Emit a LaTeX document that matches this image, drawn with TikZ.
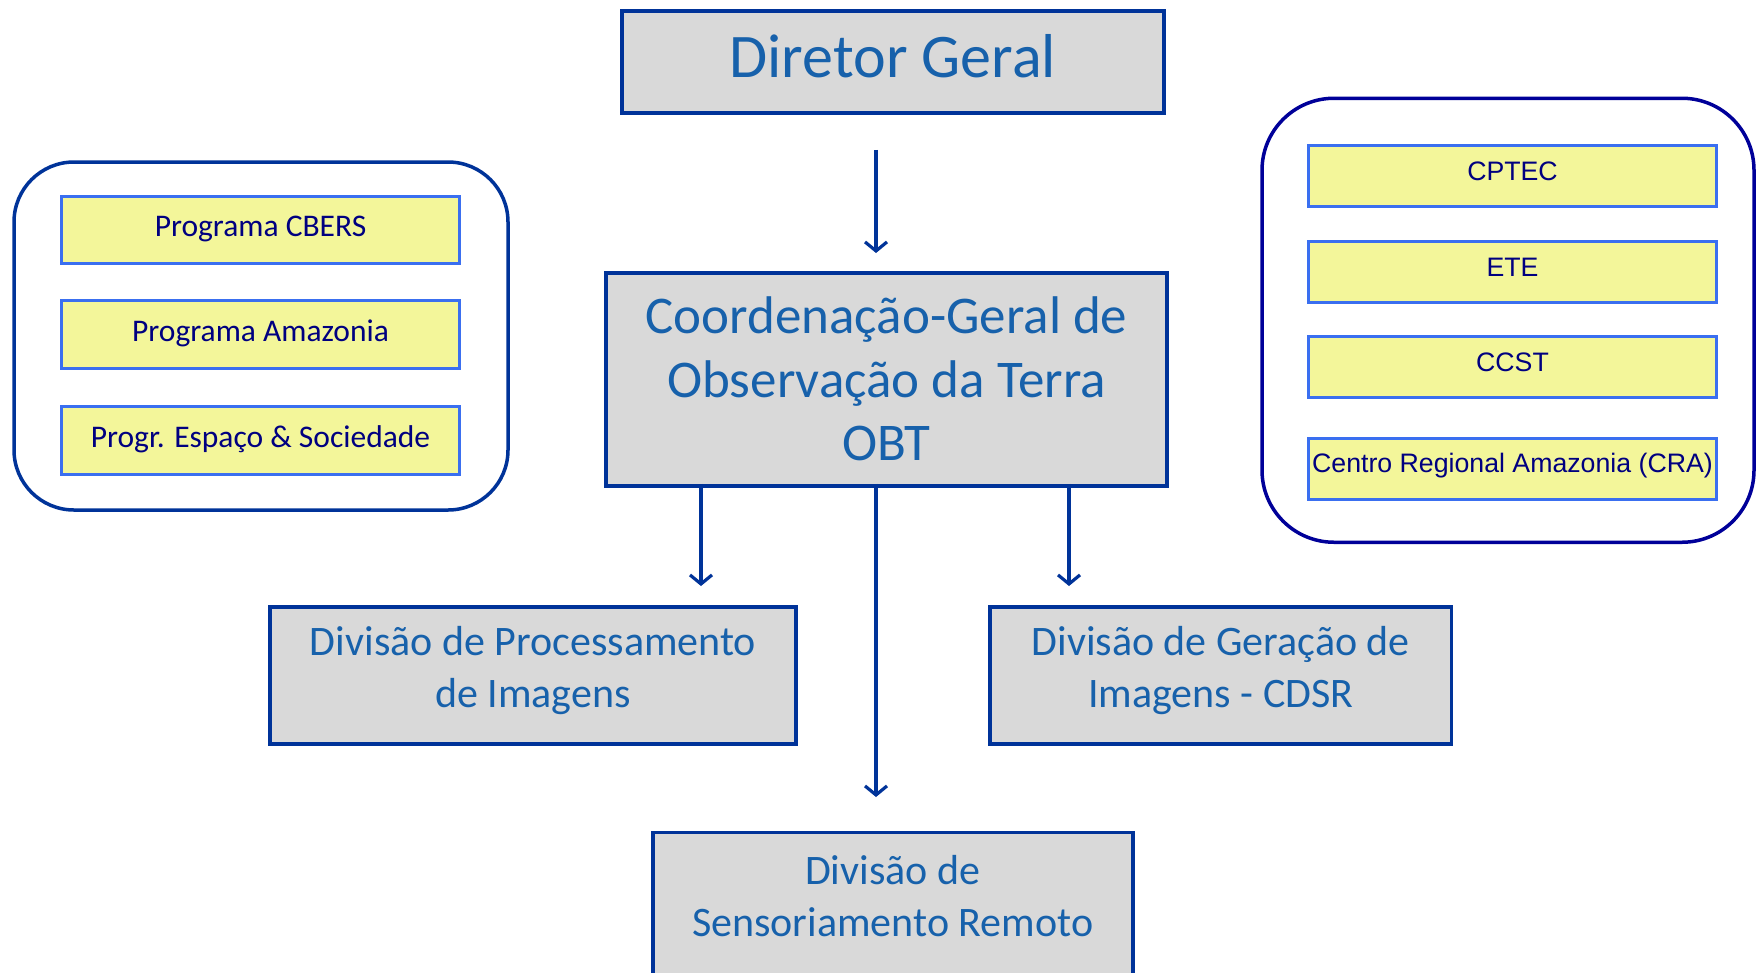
\documentclass[tikz,border=0pt]{standalone}
\usepackage{fontspec}
\setmainfont{Carlito}
\newfontfamily\arialf{Liberation Sans}
\usetikzlibrary{arrows.meta,backgrounds}
\definecolor{boxblue}{HTML}{003399}
\definecolor{boxgray}{HTML}{D9D9D9}
\definecolor{titleblue}{HTML}{1761AB}
\definecolor{yel}{HTML}{F3F69A}
\definecolor{yelborder}{HTML}{3A6FF0}
\definecolor{navytext}{HTML}{000080}
\definecolor{contright}{HTML}{000099}
\newcommand{\lift}[2]{\raisebox{#1}[\height][\depth]{#2}}
\newcommand{\stk}[1]{\begin{tabular}{@{}c@{}}#1\end{tabular}}
\begin{document}
\begin{tikzpicture}[x=1pt,y=-1pt,
  graybox/.style={draw=boxblue, line width=3.5pt, fill=boxgray, text=titleblue, align=center, inner sep=0pt},
  ybox/.style={draw=yelborder, line width=3pt, fill=yel, text=navytext, align=center, inner sep=0pt},
  contL/.style={draw=boxblue, line width=3.5pt, fill=white, inner sep=0pt},
  contR/.style={draw=contright, line width=3.5pt, fill=white, inner sep=0pt},
  arr/.style={draw=boxblue, line width=3.2pt, -{Straight Barb[length=9pt,width=22pt]}},
  lfont/.style={font=\fontsize{31.5}{38}\selectfont},
  rfont/.style={font=\arialf\fontsize{26.7}{32}\selectfont}
]
\useasboundingbox (0,0) rectangle (1764,972);
\begin{scope}[on background layer]
  \fill[white] (0,0) rectangle (1764,972);
\end{scope}
\clip (0,0) rectangle (1764,972);

% main boxes
\node[graybox, minimum width=542pt, minimum height=102pt, font=\fontsize{62}{74}\selectfont] (dir) at (892.75,62) {\lift{6pt}{Diretor Geral}};
\node[graybox, minimum width=561pt, minimum height=213pt, font=\fontsize{53}{63.6}\selectfont] (cg) at (886.5,379.5) {\lift{-5pt}{\stk{Coordenação-Geral de\\Observação da Terra\\OBT}}};
\node[graybox, minimum width=526pt, minimum height=137pt, font=\fontsize{42}{52}\selectfont] (dp) at (533,675.5) {\lift{4.5pt}{\stk{Divisão de Processamento\\de Imagens}}};
\node[graybox, minimum width=461.5pt, minimum height=137pt, font=\fontsize{42}{52}\selectfont] (dgi) at (1220.75,675.5) {\lift{4.5pt}{\stk{Divisão de Geração de\\Imagens - CDSR}}};
\node[graybox, draw=none, fill=none, minimum width=476.5pt, minimum height=124pt, font=\fontsize{42}{52}\selectfont] (ds) at (892.75,896) {\lift{-4pt}{\stk{Divisão de\\Sensoriamento Remoto}}};
\begin{scope}[on background layer]
  \draw[draw=boxblue, line width=3.5pt, fill=boxgray] (ds.north west) rectangle ([yshift=-80pt]ds.south east);
\end{scope}

% left container
\node[contL, minimum width=494pt, minimum height=348pt, rounded corners=60pt] (lc) at (261,336) {};
\node[ybox, lfont, minimum width=398pt, minimum height=67.5pt] (p1) at (260.5,230) {\lift{1pt}{Programa CBERS}};
\node[ybox, lfont, minimum width=398pt, minimum height=67.5pt] (p2) at (260.5,334.5) {\lift{1pt}{Programa Amazonia}};
\node[ybox, lfont, minimum width=398pt, minimum height=67.5pt] (p3) at (260.5,440.5) {\lift{1pt}{Progr. Espaço \& Sociedade}};

% right container
\node[contR, minimum width=492pt, minimum height=444pt, rounded corners=72pt] (rc) at (1508,320.25) {};
\node[ybox, rfont, minimum width=408pt, minimum height=61pt] (c1) at (1512.5,176) {\lift{4.5pt}{CPTEC}};
\node[ybox, rfont, minimum width=408pt, minimum height=61pt] (c2) at (1512.5,272) {\lift{4.5pt}{ETE}};
\node[ybox, rfont, minimum width=408pt, minimum height=61pt] (c3) at (1512.5,367) {\lift{4.5pt}{CCST}};
\node[ybox, rfont, minimum width=408pt, minimum height=61pt] (c4) at (1512.5,468.5) {\lift{3pt}{Centro Regional Amazonia (CRA)}};

% arrows
\coordinate (a0) at (876,253);
\coordinate (a1) at (701,586);
\coordinate (a2) at (876,797);
\coordinate (a3) at (1069,586);
\draw[arr] ([yshift=-35pt]dir.south -| a0) -- (a0);
\draw[arr] ([yshift=4pt]cg.south -| a1) -- (a1);
\draw[arr] ([yshift=4pt]cg.south -| a2) -- (a2);
\draw[arr] ([yshift=4pt]cg.south -| a3) -- (a3);
\end{tikzpicture}
\end{document}
